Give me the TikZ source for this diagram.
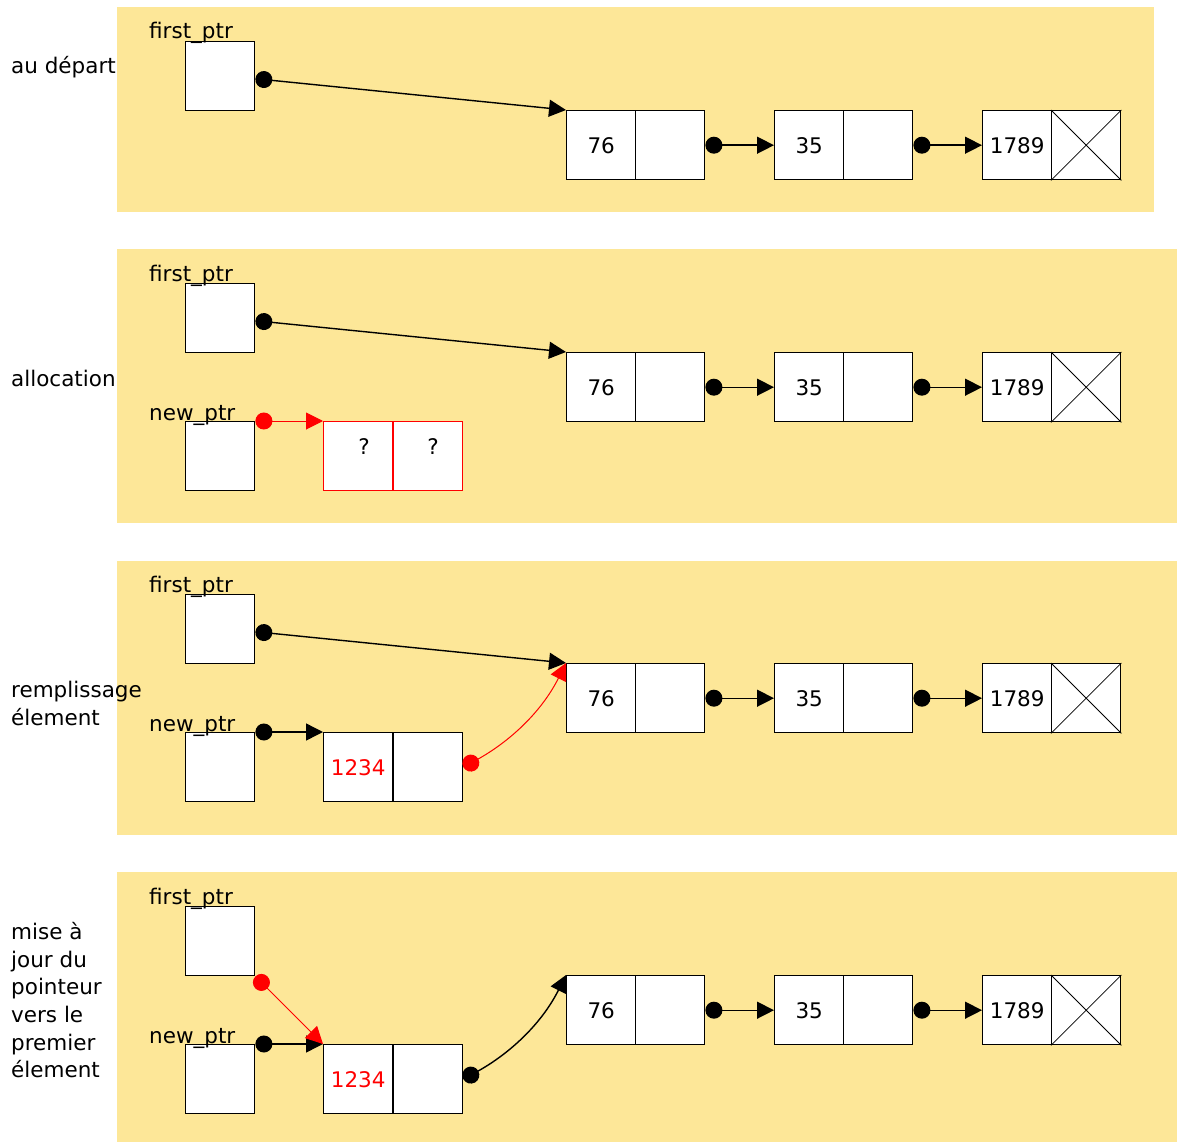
\documentclass[tikz,border=0pt]{standalone}
\usepackage{fontspec}
\setmainfont{DejaVu Sans}
\usetikzlibrary{arrows.meta}
\definecolor{panelbg}{RGB}{253,231,152}
\newcommand\txtsize{\fontsize{21.5}{26}\selectfont}
\tikzset{
  panel/.style={fill=panelbg, draw=none},
  cell/.style={draw=black, fill=white, line width=1.4pt, minimum width=69pt,
    minimum height=69pt, inner sep=0pt, anchor=north west, font=\txtsize},
  redcell/.style={cell, draw=red},
  lbl/.style={anchor=base west, inner sep=0pt, font=\txtsize},
  ptr/.style={line width=1.4pt, draw=black,
    {Circle[length=17pt]}-{Triangle[length=17pt,width=17pt]}},
  redptr/.style={ptr, draw=red, line width=1pt},
  nilx/.style={line width=0.8pt}
}
\begin{document}
\begin{tikzpicture}[x=1pt,y=-1pt]
\useasboundingbox (0,0) rectangle (1177,1142);

% panels
\fill[panel] (117,7) rectangle (1154,212);
\fill[panel] (117,249) rectangle (1177,523);
\fill[panel] (117,561) rectangle (1177,835);
\fill[panel] (117,872) rectangle (1177,1142);

% ---------------- panel 1 ----------------
\node[lbl] (t1) at (11,74) {au départ};
\node[cell] (fp1) at (185,41) {};
\node[lbl] (fpl1) at (149,39) {first\_ptr};
\node[cell] (a1) at (566,110) {76};
\node[cell] (a1r) at (635,110) {};
\node[cell] (b1) at (774,110) {35};
\node[cell] (b1r) at (843,110) {};
\node[cell] (c1) at (982,110) {1789};
\node[cell] (c1r) at (1051,110) {};
\draw[nilx] (c1r.north west) -- (c1r.south east) (c1r.north east) -- (c1r.south west);
\draw[ptr] ([yshift=-2.5pt]fp1.east) -- (a1.north west);
\draw[ptr] (a1r.east) -- (b1.west);
\draw[ptr] (b1r.east) -- (c1.west);

% ---------------- panel 2 ----------------
\node[lbl] (t2) at (11,386) {allocation};
\node[cell] (fp2) at (185,283) {};
\node[lbl] (fpl2) at (149,281) {first\_ptr};
\node[cell] (a2) at (566,352) {76};
\node[cell] (a2r) at (635,352) {};
\node[cell] (b2) at (774,352) {35};
\node[cell] (b2r) at (843,352) {};
\node[cell] (c2) at (982,352) {1789};
\node[cell] (c2r) at (1051,352) {};
\draw[nilx] (c2r.north west) -- (c2r.south east) (c2r.north east) -- (c2r.south west);
\draw[ptr] ([yshift=-2.5pt]fp2.east) -- (a2.north west);
\draw[ptr] (a2r.east) -- (b2.west);
\draw[ptr] (b2r.east) -- (c2.west);
\node[cell] (np2) at (185,421) {};
\node[lbl] (npl2) at (149,420) {new\_ptr};
\node[redcell] (n2) at (323,421) {};
\node[redcell] (n2r) at (393,421) {};
\node[font=\txtsize, inner sep=0pt] (q1) at (364,447) {?};
\node[font=\txtsize, inner sep=0pt] (q2) at (433,447) {?};
\draw[redptr] (np2.north east) -- (n2.north west);

% ---------------- panel 3 ----------------
\node[lbl] (t3a) at (11,697) {remplissage};
\node[lbl] (t3b) at (11,725) {élement};
\node[cell] (fp3) at (185,594) {};
\node[lbl] (fpl3) at (149,592) {first\_ptr};
\node[cell] (a3) at (566,663) {76};
\node[cell] (a3r) at (635,663) {};
\node[cell] (b3) at (774,663) {35};
\node[cell] (b3r) at (843,663) {};
\node[cell] (c3) at (982,663) {1789};
\node[cell] (c3r) at (1051,663) {};
\draw[nilx] (c3r.north west) -- (c3r.south east) (c3r.north east) -- (c3r.south west);
\draw[ptr] (a3r.east) -- (b3.west);
\draw[ptr] (b3r.east) -- (c3.west);
\node[cell] (np3) at (185,732) {};
\node[lbl] (npl3) at (149,731) {new\_ptr};
\node[cell, text=red] (n3) at (323,732) {1234};
\node[cell] (n3r) at (393,732) {};
\draw[ptr] (np3.north east) -- (n3.north west);
\draw[ptr] ([yshift=-2.5pt]fp3.east) -- (a3.north west);
\draw[redptr] (n3r.east) .. controls +(45,-25) and +(-25,50) .. (a3.north west);

% ---------------- panel 4 ----------------
\node[lbl] (t4a) at (11,939) {mise à};
\node[lbl] (t4b) at (11,967) {jour du};
\node[lbl] (t4c) at (11,994) {pointeur};
\node[lbl] (t4d) at (11,1022) {vers le};
\node[lbl] (t4e) at (11,1050) {premier};
\node[lbl] (t4f) at (11,1077) {élement};
\node[cell] (fp4) at (185,906) {};
\node[lbl] (fpl4) at (149,904) {first\_ptr};
\node[cell] (a4) at (566,975) {76};
\node[cell] (a4r) at (635,975) {};
\node[cell] (b4) at (774,975) {35};
\node[cell] (b4r) at (843,975) {};
\node[cell] (c4) at (982,975) {1789};
\node[cell] (c4r) at (1051,975) {};
\draw[nilx] (c4r.north west) -- (c4r.south east) (c4r.north east) -- (c4r.south west);
\draw[ptr] (a4r.east) -- (b4.west);
\draw[ptr] (b4r.east) -- (c4.west);
\node[cell] (np4) at (185,1044) {};
\node[lbl] (npl4) at (149,1043) {new\_ptr};
\node[cell, text=red] (n4) at (323,1044) {1234};
\node[cell] (n4r) at (393,1044) {};
\draw[ptr] (np4.north east) -- (n4.north west);
\draw[ptr] (n4r.east) .. controls +(45,-25) and +(-25,50) .. (a4.north west);
\draw[redptr] (fp4.south east) -- (n4.north west);
\end{tikzpicture}
\end{document}
